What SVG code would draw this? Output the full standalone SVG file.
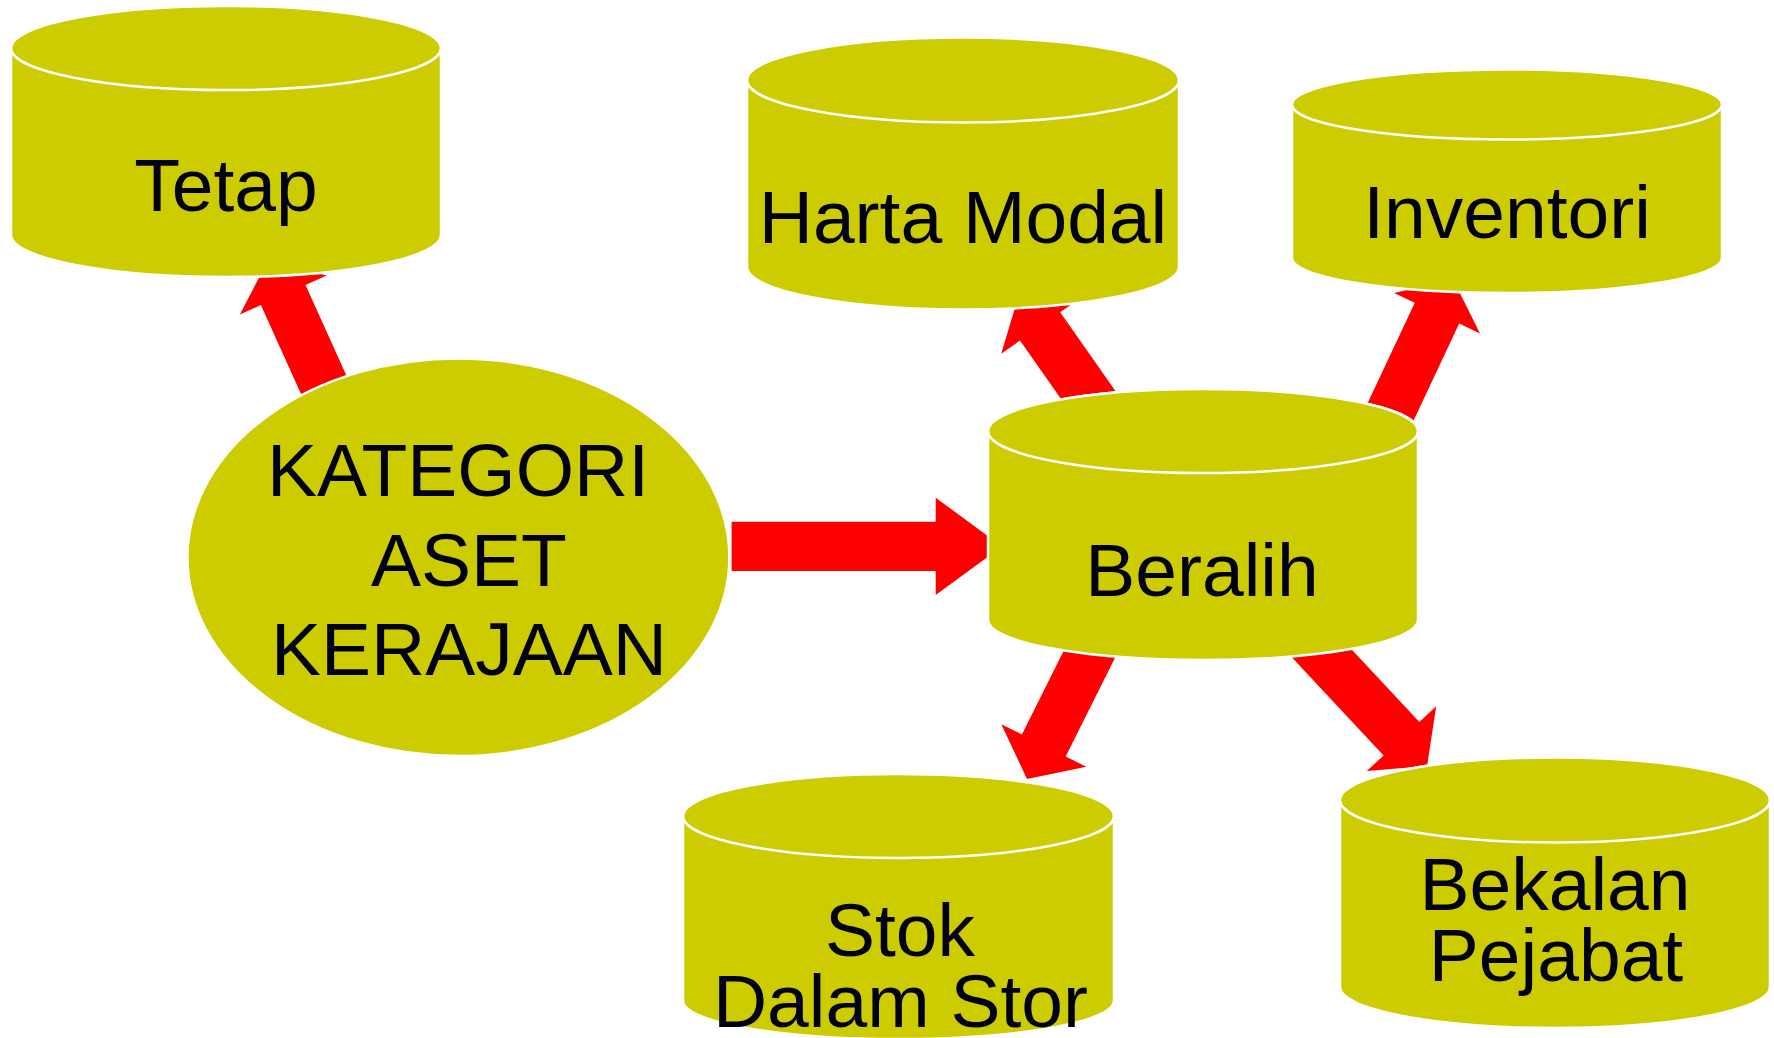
<svg xmlns="http://www.w3.org/2000/svg" width="1774" height="1038" viewBox="0 0 1774 1038">
<style>
.node{fill:#CCCC00;stroke:#FFFFFF;stroke-width:2.5}
.lbl{font-family:"Liberation Sans",Arial,sans-serif;font-size:75px;fill:#000010;text-anchor:middle}
.arr{fill:#FF0000;stroke:none}
</style>
<rect x="0" y="0" width="1774" height="1038" fill="#FFFFFF"/>
<g id="connectors">
<polygon class="arr" points="355.9,396.6 305.5,284.9 326.5,275.5 267.8,260.8 239.9,314.5 260.9,305.1 311.3,416.8"/>
<polygon class="arr" points="1130.5,412.6 1060.2,312.3 1079,299.1 1018.6,295.7 1001.2,353.7 1020,340.5 1090.3,440.8"/>
<polygon class="arr" points="1402.8,443.6 1459.2,323.6 1480,333.4 1453,279.3 1394,293 1414.8,302.8 1358.4,422.8"/>
<polygon class="arr" points="1124.9,638 1065.7,756.5 1086.3,766.7 1027,779 1001.3,724.3 1021.9,734.5 1081.1,616"/>
<polygon class="arr" points="1315.2,610.6 1419.4,721.9 1436.2,706.2 1427.1,766 1366.8,771.1 1383.6,755.4 1279.4,644"/>
<polygon class="arr" points="731.6,521.7 935.7,521.7 935.7,497.7 1002,546.4 935.7,595 935.7,571 731.6,571"/>
</g>
<g id="kategori">
<ellipse class="node" cx="458.4" cy="557.2" rx="271" ry="198.8"/>
<text class="lbl" x="458" y="496">KATEGORI</text>
<text class="lbl" x="469" y="585.7">ASET</text>
<text class="lbl" x="469" y="675">KERAJAAN</text>
</g>
<g id="tetap">
<path class="node" d="M11,48 A215,42 0 0 1 441,48 L441,235 A215,42 0 0 1 11,235 Z"/>
<ellipse class="node" cx="226" cy="48" rx="215" ry="42"/>
<text class="lbl" x="226" y="211">Tetap</text>
</g>
<g id="harta-modal">
<path class="node" d="M747,80 A216,42.5 0 0 1 1179,80 L1179,267 A216,42.5 0 0 1 747,267 Z"/>
<ellipse class="node" cx="963" cy="80" rx="216" ry="42.5"/>
<text class="lbl" x="963" y="243">Harta Modal</text>
</g>
<g id="inventori">
<path class="node" d="M1292,104.5 A215,35 0 0 1 1722,104.5 L1722,258 A215,35 0 0 1 1292,258 Z"/>
<ellipse class="node" cx="1507" cy="104.5" rx="215" ry="35"/>
<text class="lbl" x="1507" y="238">Inventori</text>
</g>
<g id="beralih">
<path class="node" d="M988,431 A215,42 0 0 1 1418,431 L1418,620 A215,40 0 0 1 988,620 Z"/>
<ellipse class="node" cx="1203" cy="431" rx="215" ry="42"/>
<text class="lbl" x="1202" y="595.5">Beralih</text>
</g>
<g id="stok-dalam-stor">
<path class="node" d="M683,816 A215.5,42 0 0 1 1114,816 L1114,1001 A215.5,38 0 0 1 683,1001 Z"/>
<ellipse class="node" cx="898.5" cy="816" rx="215.5" ry="42"/>
<text class="lbl" x="900" y="956">Stok</text>
<text class="lbl" x="900.5" y="1027">Dalam Stor</text>
</g>
<g id="bekalan-pejabat">
<path class="node" d="M1340,800 A215,42.5 0 0 1 1770,800 L1770,987 A215,41 0 0 1 1340,987 Z"/>
<ellipse class="node" cx="1555" cy="800" rx="215" ry="42.5"/>
<text class="lbl" x="1555" y="909.5">Bekalan</text>
<text class="lbl" x="1556" y="980.5">Pejabat</text>
</g>
</svg>
